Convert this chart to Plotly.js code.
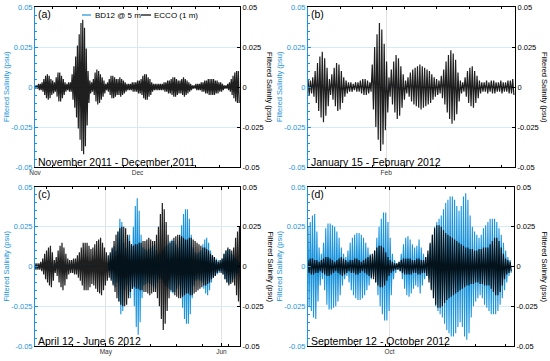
<!DOCTYPE html>
<html><head><meta charset="utf-8">
<script src="https://cdn.plot.ly/plotly-3.0.1.min.js"></script>
<style>html,body{margin:0;padding:0;background:#fff}#chart{width:550px;height:361px}</style>
</head><body><div id="chart"></div>
<script>
// Filtered salinity: peak amplitude (psu) of each semidiurnal tidal cycle
// (a) November 2011 - December 2011
const aStart = '2011-11-01';
const eccoA = [0.001,0.001,0.002,0.002,0.003,0.005,0.007,0.008,0.007,0.005,
  0.004,0.003,0.006,0.009,0.009,0.007,0.005,0.003,0.002,0.003,
  0.003,0.008,0.013,0.019,0.026,0.033,0.040,0.042,0.037,0.024,
  0.010,0.004,0.003,0.005,0.009,0.011,0.010,0.008,0.006,0.004,
  0.002,0.003,0.005,0.007,0.007,0.006,0.005,0.005,0.006,0.005,
  0.004,0.003,0.002,0.002,0.002,0.003,0.003,0.003,0.004,0.004,
  0.005,0.007,0.008,0.008,0.006,0.005,0.003,0.002,0.002,0.002,
  0.002,0.002,0.002,0.003,0.003,0.004,0.004,0.005,0.006,0.006,
  0.005,0.004,0.004,0.005,0.006,0.005,0.004,0.003,0.002,0.001,
  0.001,0.002,0.002,0.002,0.003,0.003,0.004,0.004,0.005,0.005,
  0.005,0.005,0.004,0.004,0.003,0.003,0.002,0.001,0.001,0.002,
  0.003,0.005,0.007,0.009,0.010,0.010];
// (b) January 15 - February 2012
const bStart = '2012-01-15';
const eccoB = [0.005,0.004,0.006,0.010,0.015,0.019,0.022,0.018,0.012,0.005,
  0.008,0.012,0.015,0.014,0.010,0.006,0.004,0.003,0.003,0.002,
  0.003,0.003,0.004,0.005,0.005,0.004,0.003,0.014,0.025,0.033,
  0.040,0.036,0.027,0.016,0.006,0.011,0.016,0.020,0.018,0.013,
  0.008,0.004,0.006,0.009,0.011,0.012,0.013,0.014,0.013,0.012,
  0.011,0.010,0.008,0.006,0.005,0.004,0.007,0.011,0.016,0.020,
  0.023,0.021,0.017,0.009,0.004,0.003,0.006,0.010,0.012,0.013,
  0.010,0.007,0.004,0.003,0.003,0.004,0.003,0.004,0.004,0.003,
  0.003,0.004,0.003,0.003,0.004,0.004,0.005];
// (c) April 12 - June 6 2012
const cStart = '2012-04-12';
const eccoC = [0.002,0.002,0.002,0.003,0.005,0.008,0.010,0.012,0.013,0.009,
  0.004,0.006,0.010,0.013,0.015,0.012,0.008,0.005,0.004,0.004,
  0.005,0.005,0.007,0.009,0.012,0.015,0.015,0.015,0.013,0.011,
  0.012,0.014,0.016,0.017,0.018,0.015,0.012,0.009,0.007,0.009,
  0.012,0.016,0.020,0.022,0.024,0.025,0.025,0.024,0.020,0.016,
  0.014,0.013,0.014,0.014,0.015,0.015,0.016,0.016,0.017,0.018,
  0.017,0.016,0.016,0.020,0.025,0.033,0.040,0.036,0.028,0.020,
  0.015,0.016,0.018,0.019,0.020,0.020,0.019,0.018,0.017,0.017,
  0.018,0.018,0.017,0.016,0.015,0.014,0.013,0.012,0.012,0.011,
  0.010,0.008,0.007,0.006,0.004,0.003,0.004,0.005,0.008,0.010,
  0.012,0.011,0.010,0.012,0.018,0.022,0.025];
const cBdStart = '2012-05-01 16:00';
const bd12C = [0.003,0.008,0.011,0.013,0.010,0.022,0.030,0.028,0.015,0.012,
  0.018,0.020,0.014,0.025,0.038,0.043,0.035,0.020,0.012,0.011,
  0.010,0.011,0.012,0.013,0.014,0.010,0.008,0.008,0.010,0.012,
  0.013,0.014,0.016,0.017,0.016,0.014,0.012,0.018,0.026,0.033,
  0.036,0.036,0.030,0.020,0.012,0.009,0.008,0.009,0.010,0.014,
  0.017,0.018,0.015,0.010,0.007,0.006,0.005,0.004,0.003,0.005,
  0.008,0.010,0.011,0.010,0.008,0.007,0.005,0.004,0.003];
// (d) September 12 - October 2012
const dStart = '2012-09-12';
const bd12D = [0.025,0.028,0.032,0.033,0.022,0.012,0.008,0.015,0.024,0.027,
  0.027,0.026,0.025,0.022,0.018,0.012,0.008,0.006,0.010,0.015,
  0.018,0.020,0.021,0.021,0.020,0.018,0.015,0.012,0.008,0.006,
  0.010,0.018,0.025,0.030,0.034,0.034,0.028,0.018,0.008,0.004,
  0.002,0.003,0.008,0.014,0.018,0.019,0.017,0.014,0.012,0.013,
  0.017,0.012,0.008,0.006,0.008,0.014,0.020,0.025,0.028,0.030,
  0.032,0.036,0.040,0.042,0.044,0.044,0.042,0.038,0.035,0.038,
  0.044,0.046,0.042,0.032,0.025,0.022,0.020,0.018,0.020,0.024,
  0.026,0.028,0.030,0.030,0.030,0.028,0.024,0.020,0.015,0.010,
  0.006,0.004];
const eccoD = [0.004,0.005,0.005,0.004,0.004,0.003,0.004,0.005,0.006,0.006,
  0.005,0.004,0.003,0.004,0.005,0.006,0.005,0.004,0.003,0.004,
  0.004,0.005,0.005,0.004,0.003,0.004,0.005,0.006,0.007,0.008,
  0.010,0.012,0.013,0.013,0.012,0.009,0.006,0.004,0.003,0.002,
  0.002,0.003,0.004,0.005,0.005,0.005,0.005,0.004,0.004,0.005,
  0.005,0.004,0.004,0.006,0.010,0.015,0.020,0.024,0.026,0.026,
  0.025,0.023,0.021,0.020,0.019,0.018,0.017,0.016,0.015,0.014,
  0.013,0.012,0.012,0.011,0.011,0.010,0.010,0.011,0.011,0.012,
  0.012,0.012,0.014,0.016,0.018,0.018,0.016,0.012,0.008,0.005,
  0.004,0.003];

// axis ranges and ticks
const aRange = ['2011-11-01', '2011-12-31'];
const bRange = ['2012-01-15', '2012-02-29'];
const cRange = ['2012-04-12', '2012-06-06'];
const dRange = ['2012-09-12', '2012-10-30'];
const aTicks = ['2011-11-01', '2011-12-01'], aTickText = ['Nov', 'Dec'];
const bTicks = ['2012-02-01'], bTickText = ['Feb'];
const cTicks = ['2012-05-01', '2012-06-01'], cTickText = ['May', 'Jun'];
const dTicks = ['2012-10-01'], dTickText = ['Oct'];
const yTickVals = [-0.05, -0.025, 0, 0.025, 0.05];
const yTickText = ['-0.05', '-0.025', '0', '0.025', '0.05'];
const panelLabels = ['(a)', '(b)', '(c)', '(d)'];
const periodLabels = ['November 2011 - December 2011', 'January 15 - February 2012',
  'April 12 - June 6 2012', 'September 12 - October 2012'];
const seriesNames = ['BD12 @ 5 m', 'ECCO (1 m)'];
const yTitle = 'Filtered Salinity (psu)';

// ---- drawing ----
const W = 550, H = 361;
const BLUE = '#1b94dc', FONT = 'Liberation Sans, Arial, Helvetica, sans-serif';
const PERIOD = 12.42 * 3600 * 1000; // semidiurnal cycle, ms
function toMs(s) { const p = s.split(' '); return Date.parse(p[0] + 'T' + (p[1] || '00:00') + ':00Z'); }
function osc(start, amps) {
  const t0 = toMs(start), x = [], y = [];
  amps.forEach((a, k) => {
    x.push(t0 + k * PERIOD); y.push(a);
    x.push(t0 + (k + 0.5) * PERIOD); y.push(-a);
  });
  return {x, y};
}
const px = v => v / W, py = v => 1 - v / H;

const panels = [
  {x: [35, 240], y: [7, 167], range: aRange, ticks: aTicks, tt: aTickText, blue: null, black: [aStart, eccoA]},
  {x: [308, 515], y: [7, 167], range: bRange, ticks: bTicks, tt: bTickText, blue: null, black: [bStart, eccoB]},
  {x: [35, 240], y: [187, 346], range: cRange, ticks: cTicks, tt: cTickText, blue: [cBdStart, bd12C], black: [cStart, eccoC]},
  {x: [308, 514], y: [187, 346], range: dRange, ticks: dTicks, tt: dTickText, blue: [dStart, bd12D], black: [dStart, eccoD]}
];

const traces = [], layout = {
  width: W, height: H, margin: {l: 0, r: 0, t: 0, b: 0},
  paper_bgcolor: '#fff', plot_bgcolor: '#fff', showlegend: false,
  font: {family: FONT, color: '#000'}, annotations: [], shapes: []
};

panels.forEach((p, i) => {
  const n = i + 1, xa = n === 1 ? 'x' : 'x' + n;
  const yl = 2 * n - 1, yr = 2 * n;
  const ylName = yl === 1 ? 'y' : 'y' + yl, yrName = 'y' + yr;
  layout['xaxis' + (n === 1 ? '' : n)] = {
    domain: [px(p.x[0]), px(p.x[1])], anchor: ylName, type: 'date', range: p.range,
    tickvals: p.ticks, ticktext: p.tt, ticks: 'inside', ticklen: 3, tickcolor: '#000',
    showline: true, linecolor: '#000', linewidth: 1, mirror: 'ticks',
    showgrid: true, gridcolor: '#e2e2e2', zeroline: false, automargin: false,
    tickfont: {size: 6.5, color: '#333'}, ticklabelstandoff: -1,
    minor: {ticks: 'inside', ticklen: 2, dtick: 7 * 86400000, tickcolor: '#000', showgrid: false}
  };
  layout['yaxis' + (yl === 1 ? '' : yl)] = {
    domain: [py(p.y[1]), py(p.y[0])], anchor: xa, range: [-0.05, 0.05],
    tickvals: yTickVals, ticktext: yTickText, ticks: 'inside', ticklen: 3, tickcolor: BLUE,
    showline: true, linecolor: BLUE, linewidth: 1, showgrid: true, gridcolor: '#d3ebfa',
    zeroline: false, automargin: false, tickfont: {size: 7.5, color: BLUE},
    minor: {ticks: 'inside', ticklen: 2, dtick: 0.005, tickcolor: BLUE, showgrid: false}
  };
  layout['yaxis' + yr] = {
    overlaying: ylName, side: 'right', anchor: xa, range: [-0.05, 0.05],
    tickvals: yTickVals, ticktext: yTickText, ticks: 'inside', ticklen: 3, tickcolor: '#000',
    showline: true, linecolor: '#000', linewidth: 1, showgrid: false, zeroline: false,
    automargin: false, tickfont: {size: 7.5, color: '#000'}
  };
  if (p.blue) {
    const s = osc(p.blue[0], p.blue[1]);
    traces.push({type: 'scatter', mode: 'lines', name: seriesNames[0], x: s.x, y: s.y,
      xaxis: xa, yaxis: ylName, line: {color: BLUE, width: 1.1}, hoverinfo: 'skip'});
  } else {
    // BD12 has no record in this window; keep its (left) axis present
    traces.push({type: 'scatter', mode: 'lines', name: seriesNames[0], x: [], y: [],
      xaxis: xa, yaxis: ylName, line: {color: BLUE, width: 1}, hoverinfo: 'skip'});
  }
  const b = osc(p.black[0], p.black[1]);
  traces.push({type: 'scatter', mode: 'lines', name: seriesNames[1], x: b.x, y: b.y,
    xaxis: xa, yaxis: yrName, line: {color: '#000', width: 1.2}, opacity: 0.88, hoverinfo: 'skip'});

  const midY = (p.y[0] + p.y[1]) / 2;
  layout.annotations.push(
    {xref: 'paper', yref: 'paper', x: px(p.x[0] - 29), y: py(midY), text: yTitle, textangle: -90,
     showarrow: false, xanchor: 'center', yanchor: 'middle', font: {size: 7.5, color: BLUE}},
    {xref: 'paper', yref: 'paper', x: px(p.x[1] + 30), y: py(midY), text: yTitle, textangle: 90,
     showarrow: false, xanchor: 'center', yanchor: 'middle', font: {size: 7.5, color: '#000'}},
    {xref: 'paper', yref: 'paper', x: px(p.x[0] + 1), y: py(p.y[0] + 7), text: panelLabels[i],
     showarrow: false, xanchor: 'left', yanchor: 'middle', font: {size: 10.5, color: '#000'}},
    {xref: 'paper', yref: 'paper', x: px(p.x[0] + 1), y: py(p.y[1] - 5), text: periodLabels[i],
     showarrow: false, xanchor: 'left', yanchor: 'middle', font: {size: 10.5, color: '#000'}}
  );
});

// legend (panel a)
layout.shapes.push(
  {type: 'line', xref: 'paper', yref: 'paper', x0: px(82), x1: px(91), y0: py(15), y1: py(15), line: {color: BLUE, width: 1.2}},
  {type: 'line', xref: 'paper', yref: 'paper', x0: px(141), x1: px(151), y0: py(15), y1: py(15), line: {color: '#000', width: 1.2}}
);
layout.annotations.push(
  {xref: 'paper', yref: 'paper', x: px(92.5), y: py(15), text: seriesNames[0], showarrow: false,
   xanchor: 'left', yanchor: 'middle', font: {size: 8, color: '#000'}},
  {xref: 'paper', yref: 'paper', x: px(152), y: py(15), text: seriesNames[1], showarrow: false,
   xanchor: 'left', yanchor: 'middle', font: {size: 8, color: '#000'}}
);

Plotly.newPlot('chart', traces, layout, {staticPlot: true, displayModeBar: false});
</script>
</body></html>
